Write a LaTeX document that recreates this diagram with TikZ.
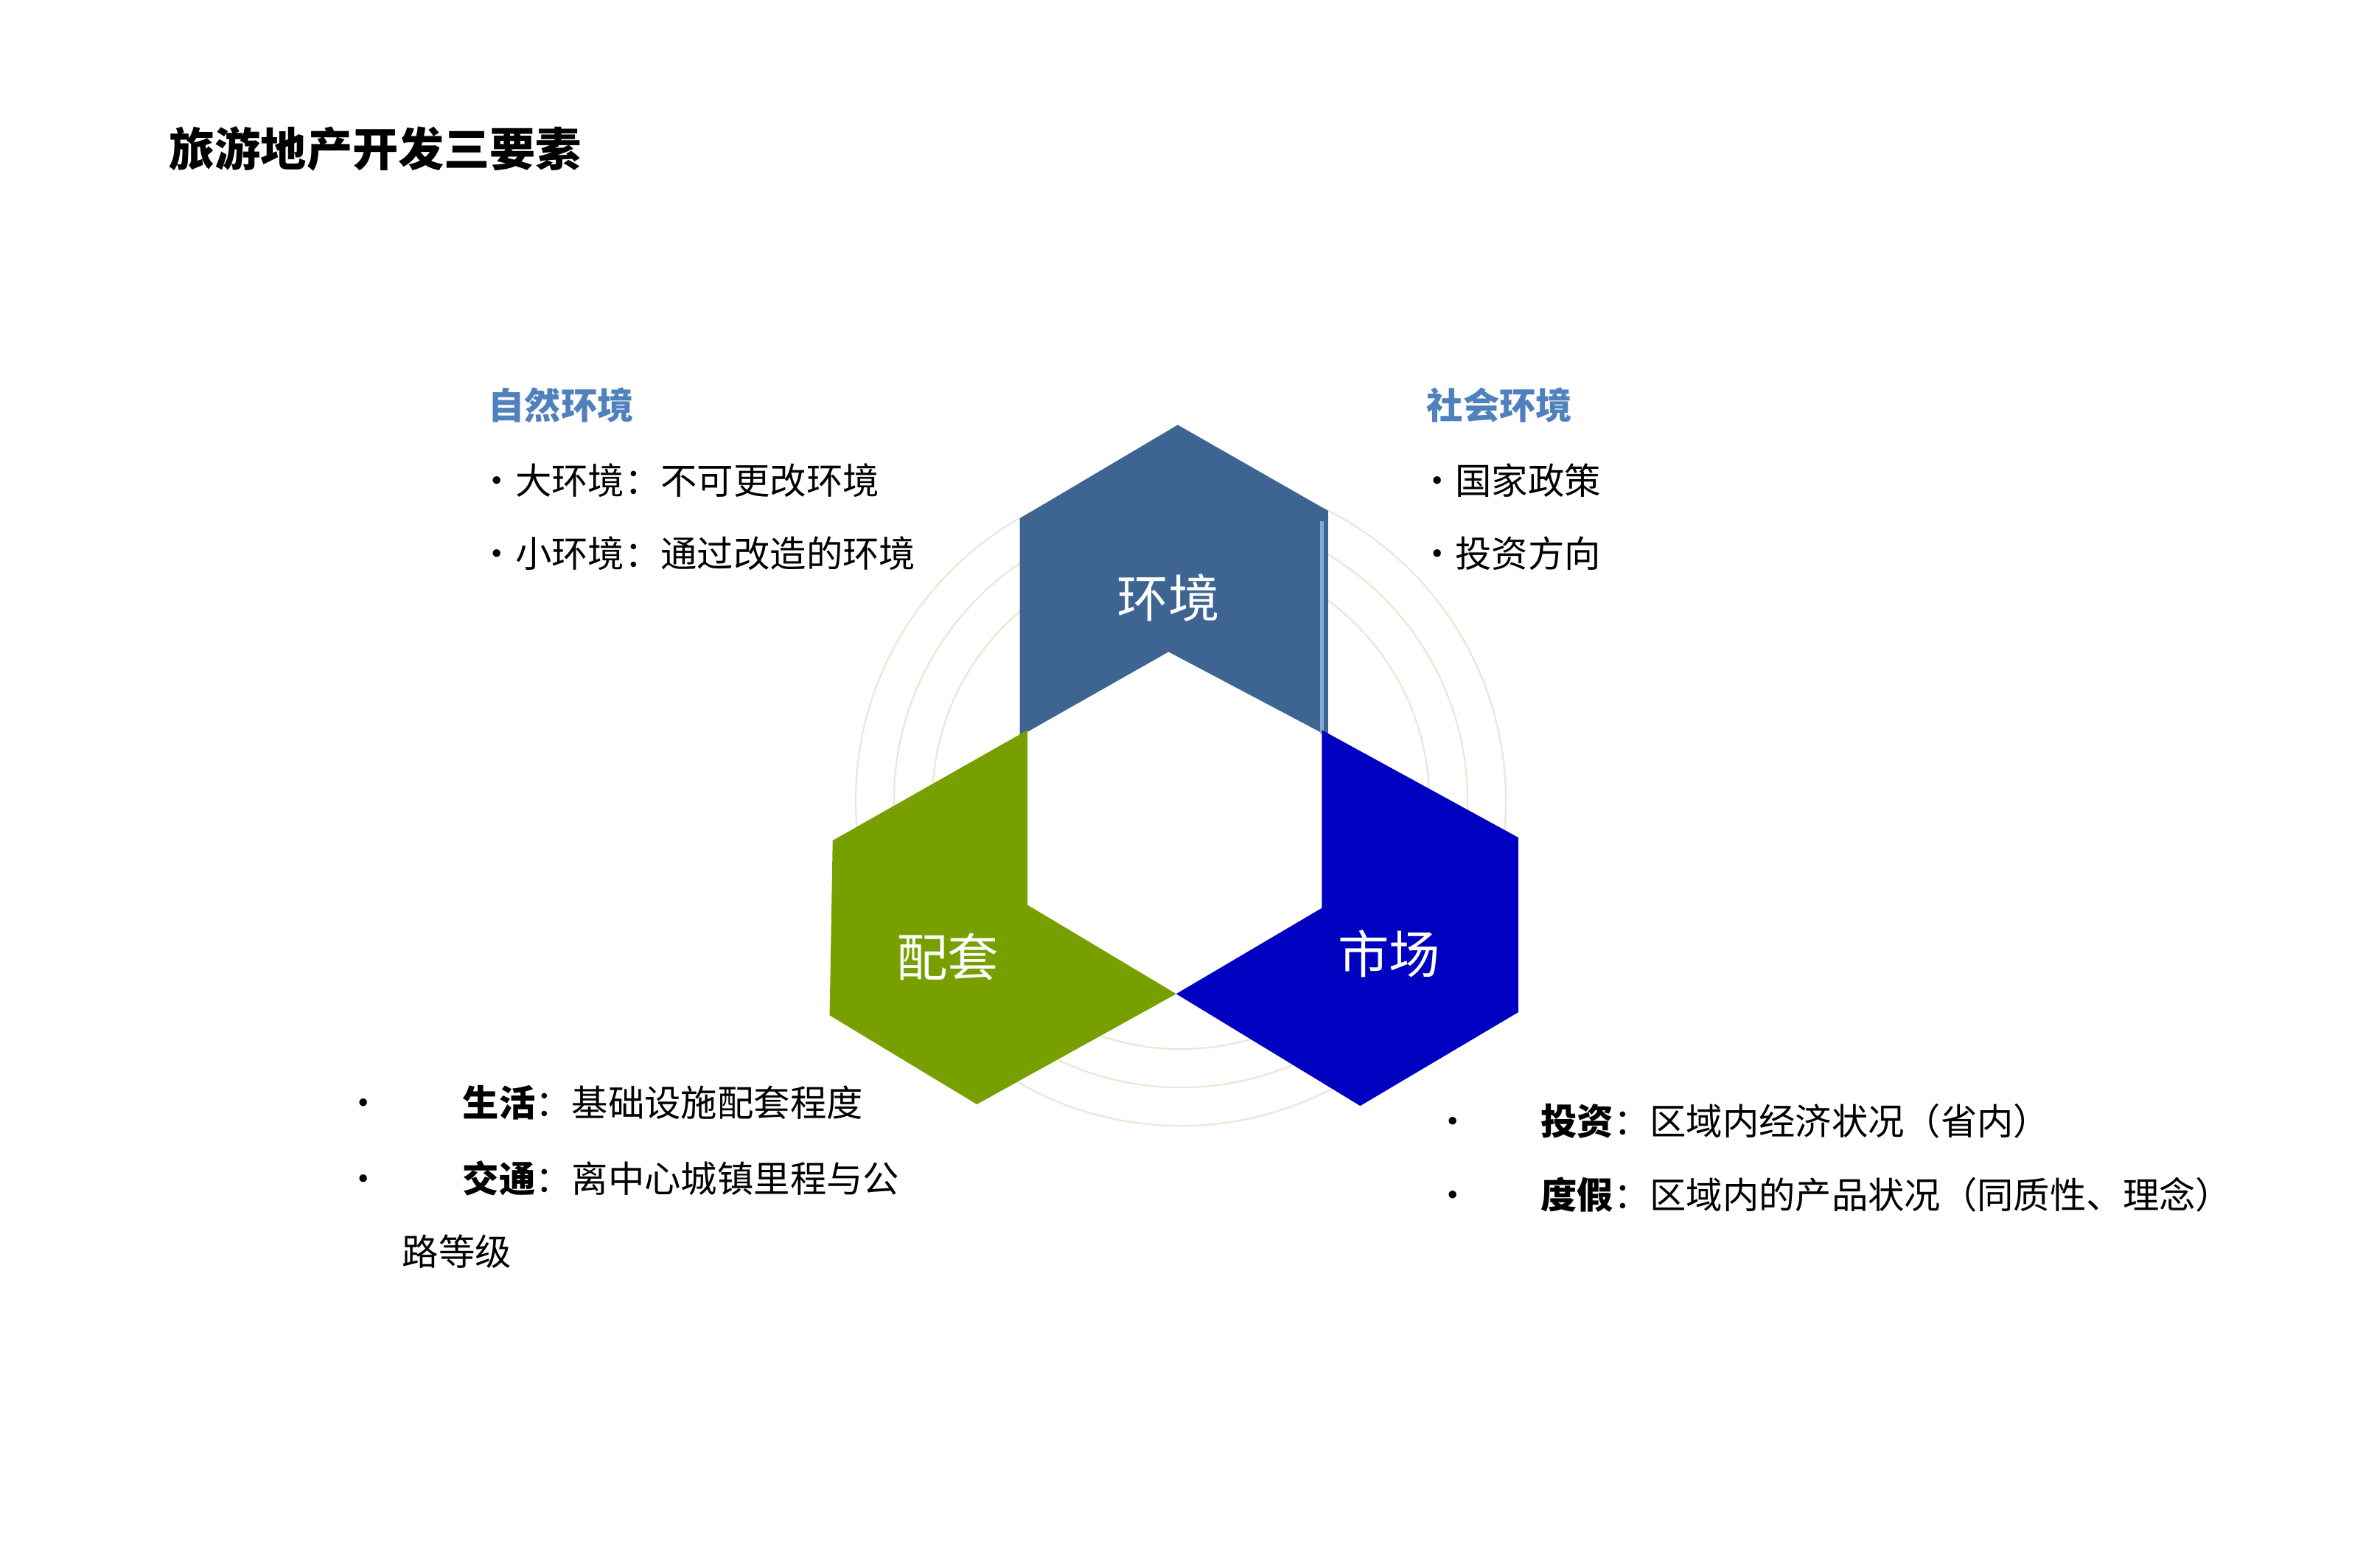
\documentclass[tikz,border=0pt]{standalone}
\usepackage{fontspec}
\setmainfont{Noto Sans CJK SC}
\newfontfamily\cjk{Noto Sans CJK SC}
\begin{document}
\begin{tikzpicture}[x=0.02cm,y=-0.02cm,
  body/.style={anchor=west,inner sep=0pt,font=\fontsize{13.5pt}{16pt}\selectfont},
  head/.style={anchor=west,inner sep=0pt,font=\fontsize{13.5pt}{16pt}\selectfont\bfseries,text={rgb,255:red,79;green,129;blue,189}},
  hexlab/.style={text=white,font=\fontsize{19pt}{22pt}\selectfont}]
\useasboundingbox (0,0) rectangle (1552,1022);
\fill[white] (0,0) rectangle (1552,1022);
\foreach \r in {212,187,162} \draw[color={rgb,255:red,232;green,232;blue,214},line width=0.6pt] (770,522) circle (\r);
\fill[fill={rgb,255:red,62;green,100;blue,145}] (665,338) -- (768,277) -- (866,333) -- (866,480) -- (762,425) -- (665,480) -- cycle;
\draw[color={rgb,255:red,130;green,170;blue,215},line width=1.5pt] (862,340) -- (862,478);
\fill[fill={rgb,255:red,119;green,159;blue,0}] (543,548) -- (670,476) -- (670,590) -- (767,648) -- (637,720) -- (541,662) -- cycle;
\fill[fill={rgb,255:red,0;green,0;blue,192}] (767,648) -- (862,592) -- (862,476) -- (990,546) -- (990,660) -- (887,721) -- cycle;
\node[hexlab] (h1) at (762,390) {环境};
\node[hexlab] (h2) at (618,624) {配套};
\node[hexlab] (h3) at (906,622) {市场};
\node[anchor=west,inner sep=0pt,font=\fontsize{17pt}{20pt}\selectfont\bfseries] (t) at (110,97) {旅游地产开发三要素};
\node[head] (a0) at (318,264) {自然环境};
\node[body] (a1) at (312,313) {•大环境：不可更改环境};
\node[body] (a2) at (312,361) {•小环境：通过改造的环境};
\node[head] (b0) at (930,264) {社会环境};
\node[body] (b1) at (925,313) {•国家政策};
\node[body] (b2) at (925,361) {•投资方向};
\node[body] (c1) at (225,719) {•\hspace{30pt}\textbf{生活}：基础设施配套程度};
\node[body] (c2) at (225,768) {•\hspace{30pt}\textbf{交通}：离中心城镇里程与公};
\node[body] (c3) at (262,816) {路等级};
\node[body] (d1) at (935,731) {•\hspace{26pt}\textbf{投资}：区域内经济状况（省内）};
\node[body] (d2) at (935,779) {•\hspace{26pt}\textbf{度假}：区域内的产品状况（同质性、理念）};
\end{tikzpicture}
\end{document}
